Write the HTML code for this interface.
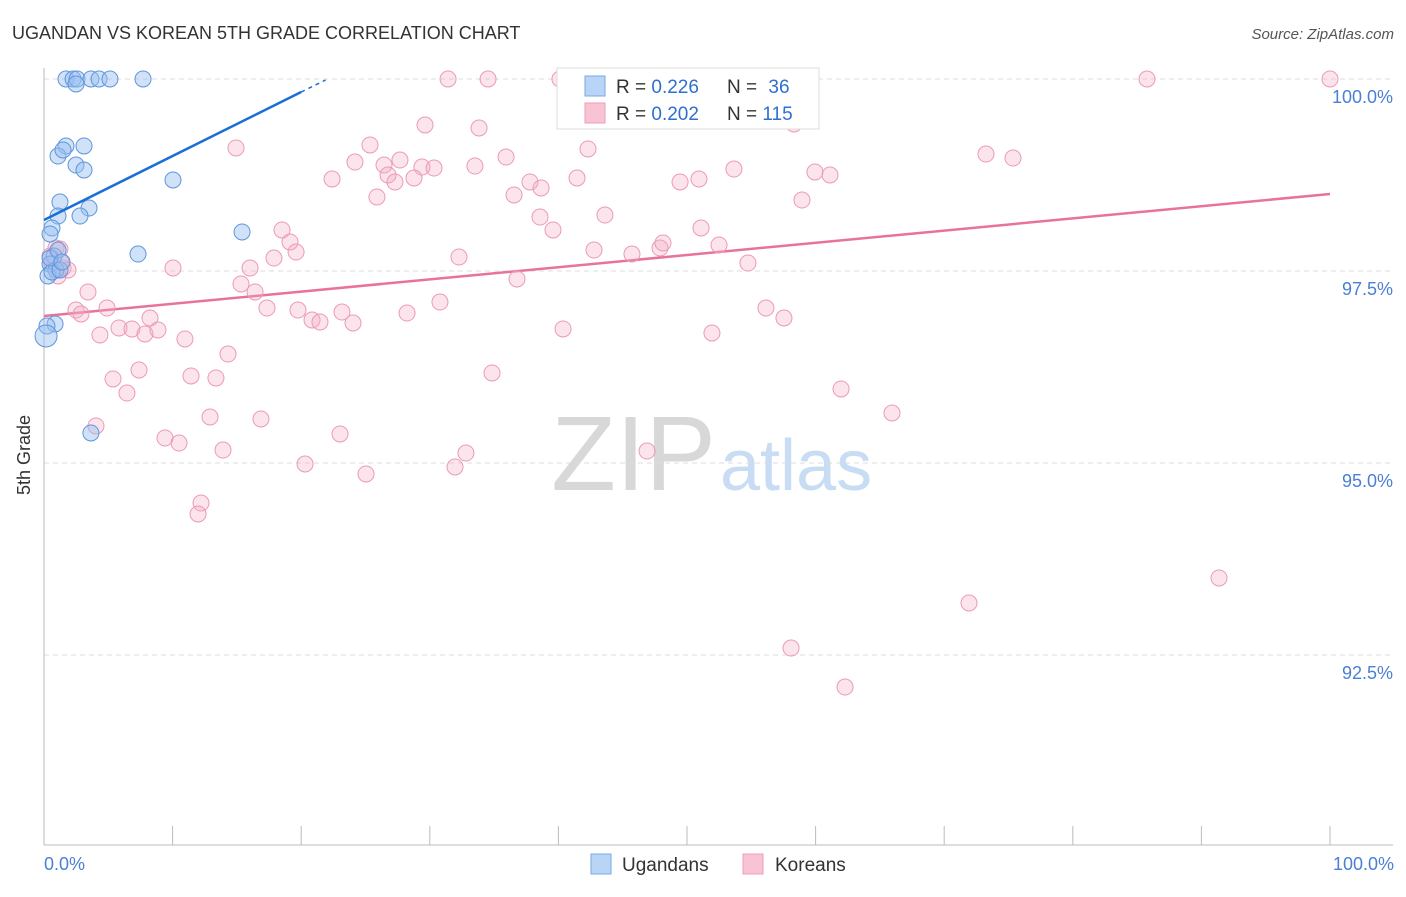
<!DOCTYPE html>
<html><head><meta charset="utf-8"><style>
body{margin:0;background:#fff;font-family:"Liberation Sans",sans-serif;}
svg text{font-family:"Liberation Sans",sans-serif;}
</style></head><body>
<svg id="chart" width="1406" height="892" viewBox="0 0 1406 892" xmlns="http://www.w3.org/2000/svg">
<text x="12" y="39" font-size="18" fill="#333">UGANDAN VS KOREAN 5TH GRADE CORRELATION CHART</text>
<text x="1394" y="39" font-size="15" fill="#555" text-anchor="end" font-style="italic">Source: ZipAtlas.com</text>
<text x="716" y="490" font-size="106" fill="#d8d8d8" text-anchor="end" font-family="Liberation Serif">ZIP</text>
<text x="720" y="490" font-size="72" fill="#c8dcf4">atlas</text>
<g id="grid"></g>
<g id="axes"></g>
<line x1="44" y1="316" x2="1330" y2="194" id="pinkTrend" stroke="#e8739a" stroke-width="2.5"/>
<g id="pts"></g>
<line id="blueTrend" stroke="#1a6fd6" stroke-width="2.5"/>
<line id="blueTrendDash" stroke="#1a6fd6" stroke-width="1.5" stroke-dasharray="4,4"/>
<text x="30" y="455" font-size="18" fill="#333" text-anchor="middle" transform="rotate(-90 30 455)">5th Grade</text>
<text x="44" y="870" font-size="18" fill="#4a7fd6">0.0%</text>
<text x="1394" y="870" font-size="18" fill="#4a7fd6" text-anchor="end">100.0%</text>
<g>
<rect x="557" y="68" width="262" height="61" fill="#fff" stroke="#ddd"/>
<rect x="585" y="76" width="20" height="20" fill="#b8d4f6" stroke="#7aa8e6"/>
<rect x="585" y="103" width="20" height="20" fill="#f8c4d4" stroke="#ee9cb8"/>
<text x="616" y="93" font-size="19" fill="#333">R = <tspan fill="#2f6fd0">0.226</tspan></text>
<text x="727" y="93" font-size="19" fill="#333">N = <tspan fill="#2f6fd0" dx="6">36</tspan></text>
<text x="616" y="120" font-size="19" fill="#333">R = <tspan fill="#2f6fd0">0.202</tspan></text>
<text x="727" y="120" font-size="19" fill="#333">N = <tspan fill="#2f6fd0">115</tspan></text>
</g>
<g>
<rect x="591" y="854" width="20" height="20" fill="#b8d4f6" stroke="#7aa8e6"/>
<text x="622" y="871" font-size="19" fill="#333">Ugandans</text>
<rect x="743" y="854" width="20" height="20" fill="#f8c4d4" stroke="#ee9cb8"/>
<text x="775" y="871" font-size="19" fill="#333">Koreans</text>
</g>
</svg>
<script>
const yTicks=[100,97.5,95,92.5];
const yTickLabels=["100.0%","97.5%","95.0%","92.5%"];
const xTickCount=10;
const bluePx=[[66,79],[73,79],[77,79],[91,79],[99,79],[110,79],[143,79],[76,84],[66,146],[84,146],[58,156],[63,150],[76,165],[84,170],[173,180],[60,202],[89,208],[58,216],[80,216],[52,228],[242,232],[50,234],[138,254],[54,256],[50,264],[56,270],[48,276],[52,272],[60,270],[55,324],[47,326],[46,336],[91,433],[50,258],[58,250],[62,262]];
const pinkPx=[[448,79],[488,79],[560,79],[568,79],[672,79],[745,79],[1147,79],[1330,79],[425,125],[479,128],[370,145],[236,148],[588,149],[506,157],[355,162],[400,160],[384,165],[422,167],[434,168],[475,166],[986,154],[1013,158],[332,179],[388,175],[395,182],[414,178],[530,182],[541,188],[577,178],[680,182],[699,179],[734,169],[815,172],[830,175],[794,124],[377,197],[514,195],[802,200],[540,217],[605,215],[553,230],[701,228],[282,230],[290,242],[296,252],[274,258],[250,268],[594,250],[632,254],[660,248],[663,243],[719,245],[748,263],[459,257],[517,279],[173,268],[241,284],[255,292],[88,292],[440,302],[107,308],[76,310],[81,314],[267,308],[298,310],[342,312],[150,318],[312,320],[320,322],[353,323],[407,313],[766,308],[784,318],[119,328],[132,329],[145,334],[158,330],[100,335],[185,339],[563,329],[712,333],[228,354],[139,370],[113,379],[191,376],[216,378],[492,373],[127,393],[841,389],[892,413],[210,417],[261,419],[96,426],[165,438],[179,443],[340,434],[223,450],[466,453],[647,451],[305,464],[455,467],[366,474],[201,503],[198,514],[1219,578],[969,603],[791,648],[845,687],[56,248],[50,256],[63,268],[68,270],[58,276],[60,249],[52,264],[61,262]];
const X0=44,X1=1330,Y100=79,PXPER=192/2.5;
const xs=v=>X0+(v/100)*(X1-X0);
const ys=v=>Y100+(100-v)*PXPER;
const toData=p=>[+((p[0]-X0)/(X1-X0)*100).toFixed(2),+(100-(p[1]-Y100)/PXPER).toFixed(3)];
const blueX=bluePx.map(p=>toData(p)[0]), blueY=bluePx.map(p=>toData(p)[1]);
const pinkX=pinkPx.map(p=>toData(p)[0]), pinkY=pinkPx.map(p=>toData(p)[1]);
const NS="http://www.w3.org/2000/svg";
function mk(t,a,parent){const e=document.createElementNS(NS,t);for(const k in a)e.setAttribute(k,a[k]);parent.appendChild(e);return e;}
const grid=document.getElementById('grid'),axes=document.getElementById('axes'),pts=document.getElementById('pts');
yTicks.forEach((v,i)=>{
 const l=mk('line',{x1:44,x2:1393,y1:ys(v),y2:ys(v),stroke:'#ddd','stroke-dasharray':'5,4'},grid);
 
 
 const t=mk('text',{x:1393,y:ys(v)+24,'font-size':18,fill:'#4a7fd6','text-anchor':'end'},grid);
 t.textContent=yTickLabels[i];
 
 
});
const ya=mk('line',{x1:44,x2:44,y1:68,y2:845,stroke:'#bbb'},axes);


const xa=mk('line',{x1:44,x2:1393,y1:845,y2:845,stroke:'#bbb'},axes);


for(let i=0;i<=xTickCount;i++){
 const tk=mk('line',{x1:xs(i*10),x2:xs(i*10),y1:826,y2:845,stroke:'#bbb'},axes);
 
 
}
pinkX.forEach((x,i)=>{
 const c=mk('circle',{cx:xs(x),cy:ys(pinkY[i]),r:8,fill:'rgba(244,170,196,0.32)',stroke:'#ec9ab6','stroke-width':1},pts);
 
 
});
blueX.forEach((x,i)=>{
 const c=mk('circle',{cx:xs(x),cy:ys(blueY[i]),r:i==31?11:8,fill:'rgba(150,190,240,0.45)',stroke:'#5f95dc','stroke-width':1},pts);
 
 
});
const bt=document.getElementById('blueTrend');
bt.setAttribute('x1',xs(0));bt.setAttribute('y1',220);bt.setAttribute('x2',xs(20));bt.setAttribute('y2',92);
const bd=document.getElementById('blueTrendDash');
bd.setAttribute('x1',xs(20));bd.setAttribute('y1',92);bd.setAttribute('x2',xs(21.9));bd.setAttribute('y2',80);
</script>
</body></html>
